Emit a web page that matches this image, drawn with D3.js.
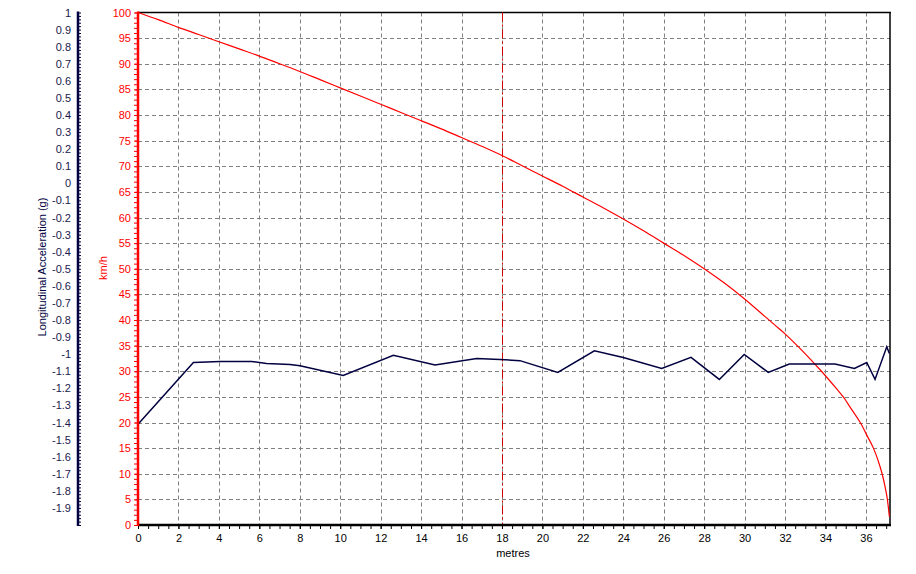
<!DOCTYPE html>
<html>
<head>
<meta charset="utf-8">
<script src="https://cdn.jsdelivr.net/npm/d3@7"></script>
<style>
  html, body { margin: 0; padding: 0; background: #ffffff; }
  svg { display: block; }
  text { font-family: "Liberation Sans", Arial, sans-serif; }
</style>
</head>
<body>
<svg id="chart" width="916" height="574"></svg>
<script>
// ---------- data ----------
const xTicks = [0, 2, 4, 6, 8, 10, 12, 14, 16, 18, 20, 22, 24, 26, 28, 30, 32, 34, 36];
const speedTicks = [0, 5, 10, 15, 20, 25, 30, 35, 40, 45, 50, 55, 60, 65, 70, 75, 80, 85, 90, 95, 100];
const accelTicks = [1, 0.9, 0.8, 0.7, 0.6, 0.5, 0.4, 0.3, 0.2, 0.1, 0, -0.1, -0.2, -0.3, -0.4, -0.5, -0.6, -0.7, -0.8, -0.9,
                    -1, -1.1, -1.2, -1.3, -1.4, -1.5, -1.6, -1.7, -1.8, -1.9];

// speed (km/h) vs distance (metres)
const speedDist = [0, 1, 2, 3, 4, 5, 6, 7, 8, 9, 10, 11, 12, 13, 14, 15, 16, 17, 18, 19, 20, 21, 22, 23, 24, 25, 26, 27, 28, 29, 30,
                   31, 31.5, 32, 32.6, 33, 33.8, 34.5, 34.88, 35.3, 35.72, 36.1, 36.37, 36.6, 36.8, 36.95, 37.06, 37.16];
const speedVal  = [100, 98.6, 97.1, 95.7, 94.3, 92.9, 91.5, 90.0, 88.5, 86.9, 85.3, 83.7, 82.1, 80.5, 78.9, 77.3, 75.6, 73.9, 72.1, 70.1,
                   68.1, 66.1, 64.0, 61.9, 59.7, 57.4, 55.0, 52.6, 50.0, 47.2, 44.1, 40.7, 39.0, 37.3, 35.0, 33.4, 30.0, 26.8, 25.0,
                   22.5, 20.0, 17.1, 15.0, 12.6, 10.0, 7.4, 5.0, 1.6];

// longitudinal acceleration (g) vs distance (metres)
const accelDist = [0, 2.74, 4.06, 5.62, 6.36, 7.52, 8.01, 10.15, 12.63, 14.69, 16.75, 17.9, 18.89, 20.76, 22.57, 24.0, 25.9,
                   27.35, 28.75, 29.98, 31.17, 32.21, 34.47, 35.43, 36.04, 36.45, 37.03, 37.16];
const accelVal  = [-1.41, -1.049, -1.043, -1.043, -1.054, -1.06, -1.068, -1.125, -1.006, -1.064, -1.025, -1.031, -1.038, -1.107,
                   -0.98, -1.02, -1.084, -1.019, -1.148, -1.002, -1.107, -1.058, -1.058, -1.084, -1.049, -1.148, -0.957, -0.996];

const cursorX = 18;

// ---------- layout ----------
const svg = d3.select("#chart");
const L = 138, R = 890, T = 12.5, B = 525;
const x = d3.scaleLinear().domain([0, 37.19]).range([L, R]);
const yV = d3.scaleLinear().domain([0, 100]).range([B, T]);
const yG = d3.scaleLinear().domain([-2, 1]).range([B, T]);

const GRID = "#808080";
const NAVY = "#000040";

// grid lines
const grid = svg.append("g");
grid.selectAll("line.h").data(speedTicks.filter(d => d > 0 && d < 100)).enter().append("line")
  .attr("x1", L).attr("x2", R).attr("y1", d => Math.round(yV(d)) + 0.5).attr("y2", d => Math.round(yV(d)) + 0.5)
  .attr("stroke", GRID).attr("stroke-dasharray", "4,3");
grid.selectAll("line.v").data(xTicks.filter(d => d > 0)).enter().append("line")
  .attr("y1", T).attr("y2", B).attr("x1", d => Math.round(x(d)) + 0.5).attr("x2", d => Math.round(x(d)) + 0.5)
  .attr("stroke", GRID).attr("stroke-dasharray", "4,3");

// plot border (top, right)
svg.append("line").attr("x1", L).attr("x2", R + 1).attr("y1", T).attr("y2", T).attr("stroke", "#000").attr("stroke-width", 1.5);
svg.append("line").attr("x1", R).attr("x2", R).attr("y1", T).attr("y2", B).attr("stroke", "#000").attr("stroke-width", 1.5);

// cursor line
svg.append("line").attr("x1", Math.round(x(cursorX)) + 0.5).attr("x2", Math.round(x(cursorX)) + 0.5)
  .attr("y1", T).attr("y2", B).attr("stroke", "#d00000").attr("stroke-dasharray", "9,3,2,3");

// series
const speedLine = d3.line().x((d, i) => x(speedDist[i])).y(d => yV(d)).curve(d3.curveMonotoneX);
svg.append("path").attr("d", speedLine(speedVal)).attr("fill", "none").attr("stroke", "#ff0000").attr("stroke-width", 1.2);

const accelLine = d3.line().x((d, i) => x(accelDist[i])).y(d => yG(d));
svg.append("path").attr("d", accelLine(accelVal)).attr("fill", "none").attr("stroke", NAVY).attr("stroke-width", 1.5);

// ---------- x axis ----------
const xMinor = d3.range(0, 37.2, 0.5);
svg.append("g").attr("transform", `translate(0,${B})`)
  .call(d3.axisBottom(x).tickValues(xMinor).tickSize(4).tickFormat(""))
  .call(g => g.select(".domain").remove())
  .call(g => g.selectAll("line").attr("stroke", "#000"));
const xAx = svg.append("g").attr("transform", `translate(0,${B})`)
  .call(d3.axisBottom(x).tickValues(xTicks).tickSize(4).tickPadding(5).tickFormat(d => String(d)));
xAx.select(".domain").remove();
xAx.selectAll("text").attr("font-size", "11px").attr("fill", "#000").attr("font-family", "Liberation Sans, Arial, sans-serif");
svg.append("line").attr("x1", L).attr("x2", R + 1).attr("y1", B).attr("y2", B).attr("stroke", "#000").attr("stroke-width", 2.5);
svg.append("text").attr("x", 513).attr("y", 557).attr("text-anchor", "middle").attr("font-size", "11px").text("metres");

// ---------- speed axis (red) ----------
const vMinor = d3.range(0, 101, 1);
svg.append("g").attr("transform", `translate(${L},0)`)
  .call(d3.axisLeft(yV).tickValues(vMinor).tickSize(4).tickFormat(""))
  .call(g => g.select(".domain").remove())
  .call(g => g.selectAll("line").attr("stroke", "#ff0000"));
const vAx = svg.append("g").attr("transform", `translate(${L},0)`)
  .call(d3.axisLeft(yV).tickValues(speedTicks).tickSize(3).tickPadding(4).tickFormat(d => String(d)));
vAx.select(".domain").remove();
vAx.selectAll("line").attr("stroke", "#ff0000");
vAx.selectAll("text").attr("font-size", "11px").attr("fill", "#ff0000").attr("font-family", "Liberation Sans, Arial, sans-serif");
svg.append("line").attr("x1", L).attr("x2", L).attr("y1", T - 1).attr("y2", B + 1).attr("stroke", "#ff0000").attr("stroke-width", 2.5);
svg.append("text").attr("transform", "translate(107,268) rotate(-90)").attr("text-anchor", "middle")
  .attr("font-size", "11px").attr("fill", "#ff0000").text("km/h");

// ---------- acceleration axis (navy) ----------
const AX = 78;
const gMinor = d3.range(-100, 51, 1).map(d => d / 50);
svg.append("g").attr("transform", `translate(${AX},0)`)
  .call(d3.axisRight(yG).tickValues(gMinor).tickSize(3).tickFormat(""))
  .call(g => g.select(".domain").remove())
  .call(g => g.selectAll("line").attr("stroke", NAVY));
const gAx = svg.append("g").attr("transform", `translate(${AX},0)`)
  .call(d3.axisLeft(yG).tickValues(accelTicks).tickSize(0).tickPadding(7).tickFormat(d => String(d)));
gAx.select(".domain").remove();
gAx.selectAll("text").attr("font-size", "11px").attr("fill", "#1a1a50").attr("font-family", "Liberation Sans, Arial, sans-serif");
svg.append("line").attr("x1", AX).attr("x2", AX).attr("y1", T - 1).attr("y2", B + 1).attr("stroke", NAVY).attr("stroke-width", 2.5);
svg.append("text").attr("transform", "translate(46,267) rotate(-90)").attr("text-anchor", "middle")
  .attr("font-size", "11px").attr("fill", NAVY).text("Longitudinal Acceleration (g)");
</script>
</body>
</html>
